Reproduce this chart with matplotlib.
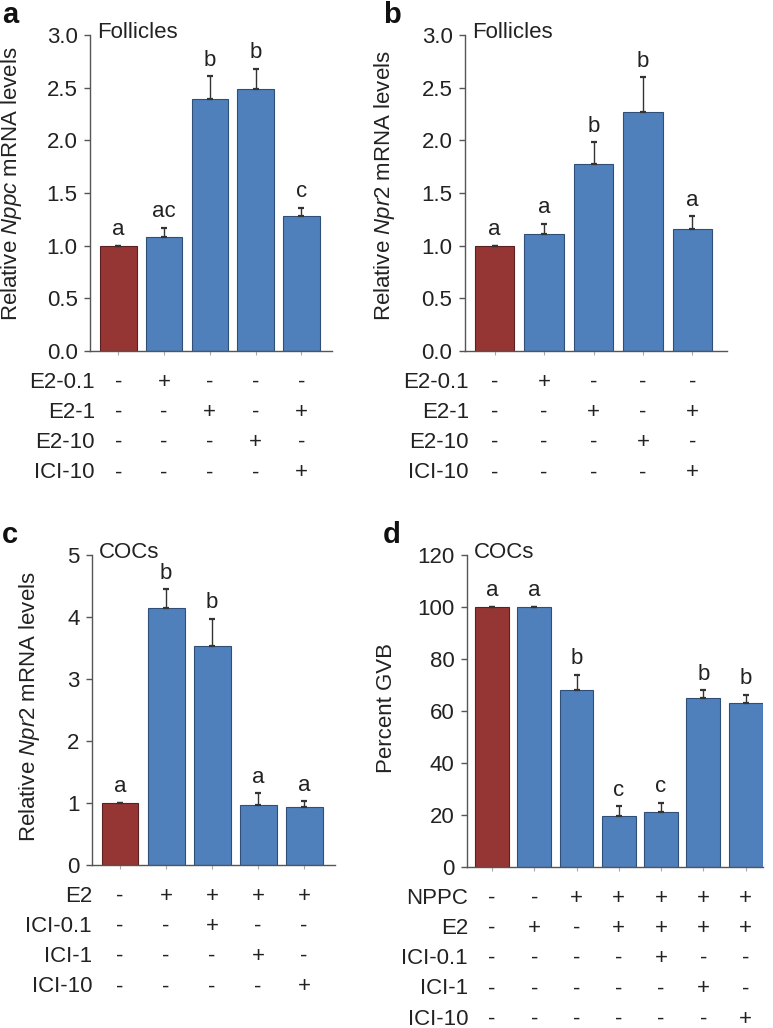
import matplotlib
matplotlib.use("Agg")
import matplotlib.pyplot as plt
import numpy as np

plt.rcParams['font.family'] = ['Liberation Sans', 'DejaVu Sans']
plt.rcParams['mathtext.fontset'] = 'custom'
plt.rcParams['mathtext.rm'] = 'Liberation Sans'
plt.rcParams['mathtext.it'] = 'Liberation Sans:italic'
plt.rcParams['mathtext.bf'] = 'Liberation Sans:bold'

# ---------------- data ----------------
a_vals = [1.00, 1.08, 2.39, 2.49, 1.28]
a_err = [0.0, 0.09, 0.22, 0.19, 0.08]
a_letters = ['a', 'ac', 'b', 'b', 'c']

b_vals = [1.00, 1.11, 1.78, 2.27, 1.16]
b_err = [0.0, 0.10, 0.20, 0.33, 0.12]
b_letters = ['a', 'a', 'b', 'b', 'a']

ab_rows = ['E2-0.1', 'E2-1', 'E2-10', 'ICI-10']
ab_table = [['-', '+', '-', '-', '-'],
            ['-', '-', '+', '-', '+'],
            ['-', '-', '-', '+', '-'],
            ['-', '-', '-', '-', '+']]

c_vals = [1.00, 4.15, 3.53, 0.96, 0.93]
c_err = [0.0, 0.30, 0.44, 0.20, 0.10]
c_letters = ['a', 'b', 'b', 'a', 'a']
c_rows = ['E2', 'ICI-0.1', 'ICI-1', 'ICI-10']
c_table = [['-', '+', '+', '+', '+'],
           ['-', '-', '+', '-', '-'],
           ['-', '-', '-', '+', '-'],
           ['-', '-', '-', '-', '+']]

d_vals = [100, 100, 68, 19.5, 21, 65, 63.2]
d_err = [0, 0, 6, 3.8, 3.7, 3, 3]
d_letters = ['a', 'a', 'b', 'c', 'c', 'b', 'b']
d_rows = ['NPPC', 'E2', 'ICI-0.1', 'ICI-1', 'ICI-10']
d_table = [['-', '-', '+', '+', '+', '+', '+'],
           ['-', '+', '-', '+', '+', '+', '+'],
           ['-', '-', '-', '-', '+', '-', '-'],
           ['-', '-', '-', '-', '-', '+', '-'],
           ['-', '-', '-', '-', '-', '-', '+']]

RED = '#963634'
BLUE = '#4f80bc'
RED_E = '#5c2020'
BLUE_E = '#2f4f78'
TXT = '#222222'
SP = '#555555'
FS = 16

W, H = 773, 1028
fig = plt.figure(figsize=(W / 100, H / 100), dpi=100)


def px_axes(l, r, top, bot):
    return fig.add_axes([l / W, 1 - bot / H, (r - l) / W, (bot - top) / H])


def panel(ax, letter, vals, errs, letters, rows, table, xlim, ylim, yticks, yfmt,
          ylabel, title, label_pt, ylabel_xy, row_xoff):
    n = len(vals)
    x = np.arange(n)
    colors = [RED] + [BLUE] * (n - 1)
    edges = [RED_E] + [BLUE_E] * (n - 1)
    ax.bar(x, vals, width=0.8, color=colors, edgecolor=edges, linewidth=0.8, zorder=2)
    ax.errorbar(x, vals, yerr=[np.zeros(n), errs], fmt='none', ecolor='#333333',
                elinewidth=1.0, capsize=2.2, capthick=1.6, zorder=3)
    for i in range(n):
        ax.annotate(letters[i], xy=(x[i], vals[i] + errs[i]), xytext=(0, 4),
                    textcoords='offset points', ha='center', va='bottom',
                    fontsize=FS, color=TXT)
    ax.set_xlim(*xlim)
    ax.set_ylim(*ylim)
    ax.set_yticks(yticks)
    ax.set_yticklabels([yfmt.format(t) for t in yticks])
    ax.set_xticks(x)
    ax.set_xticklabels([])
    for s in ['top', 'right']:
        ax.spines[s].set_visible(False)
    for s in ['left', 'bottom']:
        ax.spines[s].set_color(SP)
        ax.spines[s].set_linewidth(1.0)
    ax.tick_params(axis='y', direction='out', length=4, width=1.0, color=SP,
                   labelsize=FS, labelcolor=TXT, pad=5)
    ax.tick_params(axis='x', direction='out', length=3, width=0.8, color='#aaaaaa')
    ax.set_ylabel(ylabel, fontsize=FS, color=TXT)
    ax.yaxis.set_label_coords(*ylabel_xy)
    ax.annotate(title, xy=(0, 1), xycoords='axes fraction', xytext=(7 * 0.72, 3 * 0.72),
                textcoords='offset points', ha='left', va='center', fontsize=FS, color=TXT)
    # treatment table
    for r, name in enumerate(rows):
        off = -(31 + 30.3 * r) * 0.72
        ax.annotate(name, xy=(0, 0), xycoords='axes fraction',
                    xytext=(row_xoff * 0.72, off), textcoords='offset points',
                    ha='right', va='center', fontsize=FS, color=TXT)
        for i in range(n):
            ax.annotate(table[r][i], xy=(x[i], 0), xycoords=('data', 'axes fraction'),
                        xytext=(0, off), textcoords='offset points',
                        ha='center', va='center', fontsize=FS, color=TXT)
    fig.text(label_pt[0] / W, 1 - label_pt[1] / H, letter, fontsize=21,
             fontweight='bold', ha='left', va='center', color='#111111')


axa = px_axes(90, 332, 35, 351)
panel(axa, 'a', a_vals, a_err, a_letters, ab_rows, ab_table, (-0.62, 4.67), (0, 3.0),
      [0, 0.5, 1.0, 1.5, 2.0, 2.5, 3.0], '{:.1f}',
      r'Relative $\mathit{Nppc}$ mRNA levels', 'Follicles', (2, 15), (-0.272, 0.53), 5)

axb = px_axes(465, 727, 35, 351)
panel(axb, 'b', b_vals, b_err, b_letters, ab_rows, ab_table, (-0.6, 4.7), (0, 3.0),
      [0, 0.5, 1.0, 1.5, 2.0, 2.5, 3.0], '{:.1f}',
      r'Relative $\mathit{Npr2}$ mRNA levels', 'Follicles', (383, 15), (-0.26, 0.525), 4)

axc = px_axes(92, 335, 555, 865)
panel(axc, 'c', c_vals, c_err, c_letters, c_rows, c_table, (-0.61, 4.67), (0, 5),
      [0, 1, 2, 3, 4, 5], '{:d}',
      r'Relative $\mathit{Npr2}$ mRNA levels', 'COCs', (2, 535), (-0.205, 0.51), 0)

axd = px_axes(467, 763, 555, 867)
panel(axd, 'd', d_vals, d_err, d_letters, d_rows, d_table, (-0.59, 6.41), (0, 120),
      [0, 20, 40, 60, 80, 100, 120], '{:d}',
      'Percent GVB', 'COCs', (383, 535), (-0.236, 0.51), 1)

fig.savefig('out.png', dpi=100)
